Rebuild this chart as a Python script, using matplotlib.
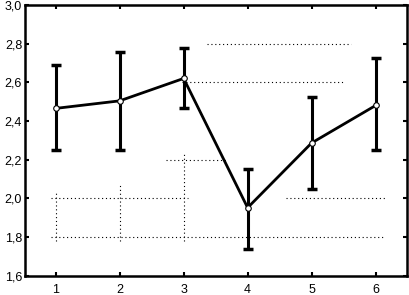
import matplotlib
matplotlib.use('Agg')
import matplotlib.pyplot as plt
import matplotlib.ticker as ticker

# group means and error limits
groups = [1, 2, 3, 4, 5, 6]
means = [2.465, 2.504, 2.620, 1.951, 2.286, 2.480]
upper = [2.689, 2.755, 2.779, 2.153, 2.525, 2.724]
lower = [2.248, 2.248, 2.465, 1.735, 2.050, 2.248]

# leftover dotted guide segments: (y, x start, x end)
h_dots = [(2.8, 3.36, 5.62), (2.6, 2.97, 5.52), (2.2, 2.72, 3.68),
          (2.0, 0.93, 3.07), (2.0, 4.60, 6.15), (1.8, 0.93, 6.15)]
# vertical: (x, y start, y end)
v_dots = [(1, 1.78, 2.04), (2, 1.78, 2.07), (3, 1.78, 2.24)]

plt.rcParams['font.family'] = ['Liberation Sans', 'DejaVu Sans']

fig = plt.figure(figsize=(4.09, 2.95), dpi=100)
ax = fig.add_axes([0.061, 0.066, 0.934, 0.917])

for y, x0, x1 in h_dots:
    ax.plot([x0, x1], [y, y], color='k', lw=0.8, linestyle=(0, (1, 2.5)))
for x, y0, y1 in v_dots:
    ax.plot([x, x], [y0, y1], color='k', lw=0.8, linestyle=(0, (1, 2.5)))

err_lo = [m - l for m, l in zip(means, lower)]
err_hi = [u - m for m, u in zip(means, upper)]
ax.errorbar(groups, means, yerr=[err_lo, err_hi], fmt='none',
            ecolor='k', elinewidth=2.2, capsize=3.5, capthick=2.5, zorder=3)
ax.plot(groups, means, color='k', lw=2.0, marker='o', markersize=4,
        markerfacecolor='white', markeredgecolor='k', markeredgewidth=0.8,
        zorder=4)

ax.set_xlim(0.52, 6.49)
ax.set_ylim(1.6, 3.0)
ax.set_xticks(groups)
ax.set_yticks([1.6, 1.8, 2.0, 2.2, 2.4, 2.6, 2.8, 3.0])
ax.yaxis.set_major_formatter(
    ticker.FuncFormatter(lambda v, p: ('%.1f' % v).replace('.', ',')))
ax.tick_params(direction='in', length=3, width=1.5, top=True, right=True,
               labelsize=9, pad=2)
ax.tick_params(axis='x', pad=6)

for s in ax.spines.values():
    s.set_linewidth(1.8)

fig.savefig('out.png', dpi=100)
